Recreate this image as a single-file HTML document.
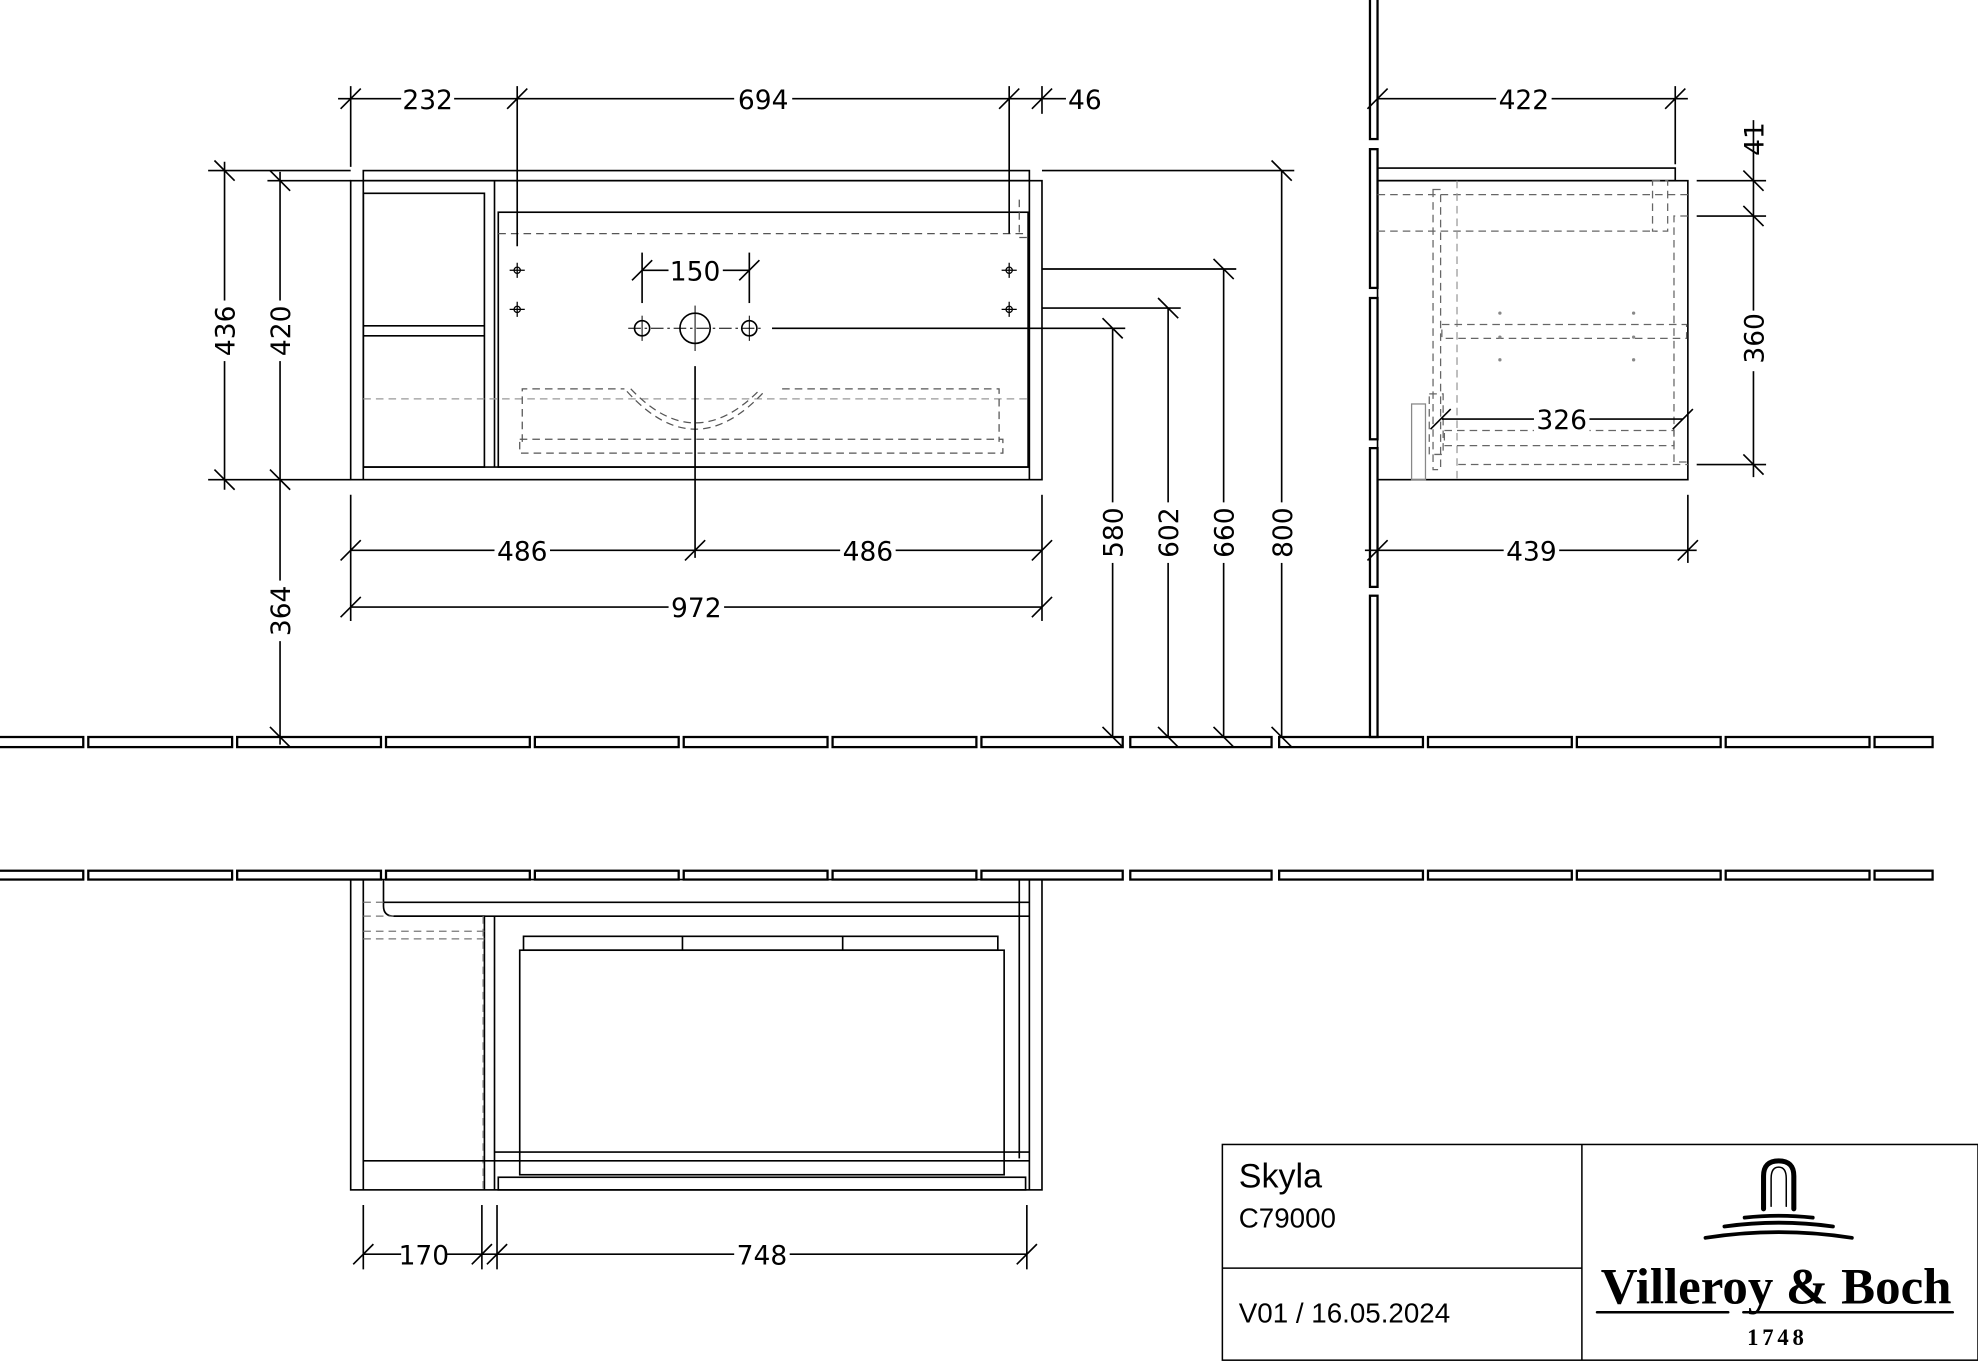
<!DOCTYPE html>
<html><head><meta charset="utf-8"><style>
html,body{margin:0;padding:0;background:#fff;}
svg{display:block;}
.d{font-family:"DejaVu Sans","Liberation Sans",sans-serif;font-size:21px;fill:#000;text-anchor:middle;}
</style></head><body>
<svg width="1978" height="1363" viewBox="0 0 1568 1080" xmlns="http://www.w3.org/2000/svg">
<rect width="1568" height="1080" fill="#fff"/>
<g stroke="#000" stroke-width="1.3" fill="none">
<g stroke-width="1.8">
<rect x="-5" y="584" width="71" height="8"/><rect x="70" y="584" width="114" height="8"/><rect x="188" y="584" width="114" height="8"/><rect x="306" y="584" width="114" height="8"/><rect x="424" y="584" width="114" height="8"/><rect x="542" y="584" width="114" height="8"/><rect x="660" y="584" width="114" height="8"/><rect x="778" y="584" width="112" height="8"/><rect x="896" y="584" width="112" height="8"/><rect x="1014" y="584" width="114" height="8"/><rect x="1132" y="584" width="114" height="8"/><rect x="1250" y="584" width="114" height="8"/><rect x="1368" y="584" width="114" height="8"/><rect x="1486" y="584" width="46" height="8"/>
<rect x="-5" y="690" width="71" height="7"/><rect x="70" y="690" width="114" height="7"/><rect x="188" y="690" width="114" height="7"/><rect x="306" y="690" width="114" height="7"/><rect x="424" y="690" width="114" height="7"/><rect x="542" y="690" width="114" height="7"/><rect x="660" y="690" width="114" height="7"/><rect x="778" y="690" width="112" height="7"/><rect x="896" y="690" width="112" height="7"/><rect x="1014" y="690" width="114" height="7"/><rect x="1132" y="690" width="114" height="7"/><rect x="1250" y="690" width="114" height="7"/><rect x="1368" y="690" width="114" height="7"/><rect x="1486" y="690" width="46" height="7"/>
<rect x="1086" y="-5" width="6" height="115"/><rect x="1086" y="118" width="6" height="110"/><rect x="1086" y="236" width="6" height="112"/><rect x="1086" y="355" width="6" height="110"/><rect x="1086" y="472" width="6" height="112"/>
</g>

<rect x="288" y="135" width="528" height="8"/>
<rect x="278" y="143" width="548" height="237"/>
<line x1="288" y1="143" x2="288" y2="380"/><line x1="816" y1="143" x2="816" y2="380"/>
<line x1="288" y1="370" x2="816" y2="370"/>
<rect x="288" y="153" width="96" height="217"/>
<line x1="288" y1="258" x2="384" y2="258"/><line x1="288" y1="266" x2="384" y2="266"/>
<line x1="392" y1="143" x2="392" y2="370"/>
<rect x="395" y="168" width="420" height="202"/>
<g stroke="#555" stroke-dasharray="6,4" stroke-width="1">
<line x1="395" y1="185" x2="815" y2="185"/>
<line x1="288" y1="316" x2="815" y2="316" stroke="#999"/>
<path d="M414,350 V308 H495 M620,308 H792 V350"/>
<rect x="412" y="348" width="383" height="11"/>
<path d="M497,310 Q551,370 606,310"/>
<path d="M500,308 Q551,362 603,308"/>
<path d="M808,158 V188 H814"/>
</g>
<circle cx="551" cy="260" r="12"/><circle cx="509" cy="260" r="6"/><circle cx="594" cy="260" r="6"/>
<g stroke-width="0.8"><line x1="498" y1="260" x2="605" y2="260" stroke-dasharray="10,3,2,3"/>
<line x1="551" y1="242" x2="551" y2="278"/><line x1="509" y1="250" x2="509" y2="270"/><line x1="594" y1="250" x2="594" y2="270"/></g>
<g stroke-width="1"><circle cx="410" cy="214" r="2.5"/><circle cx="410" cy="245" r="2.5"/><circle cx="800" cy="214" r="2.5"/><circle cx="800" cy="245" r="2.5"/>
<path d="M404,214h12M410,208v12M404,245h12M410,239v12M794,214h12M800,208v12M794,245h12M800,239v12"/></g>
<line x1="551" y1="290" x2="551" y2="442"/>
<line x1="509" y1="200" x2="509" y2="240"/><line x1="594" y1="200" x2="594" y2="240"/>
<line x1="509" y1="214" x2="530" y2="214"/><line x1="573" y1="214" x2="594" y2="214"/>
<path d="M501,222l16,-16M586,222l16,-16"/>

<line x1="268" y1="78" x2="845" y2="78"/>
<line x1="278" y1="68" x2="278" y2="132"/><line x1="410" y1="68" x2="410" y2="195"/><line x1="800" y1="68" x2="800" y2="185"/><line x1="826" y1="68" x2="826" y2="90"/>
<path d="M270,86l16,-16M402,86l16,-16M792,86l16,-16M818,86l16,-16"/>
<line x1="178" y1="128" x2="178" y2="388"/><line x1="222" y1="136" x2="222" y2="590"/>
<line x1="165" y1="135" x2="278" y2="135"/><line x1="212" y1="143" x2="278" y2="143"/><line x1="165" y1="380" x2="278" y2="380"/>
<path d="M170,127l16,16M170,372l16,16M214,135l16,16M214,372l16,16M214,576l16,16"/>
<line x1="278" y1="392" x2="278" y2="492"/><line x1="826" y1="392" x2="826" y2="492"/>
<line x1="278" y1="436" x2="826" y2="436"/><line x1="278" y1="481" x2="826" y2="481"/>
<path d="M270,444l16,-16M543,444l16,-16M818,444l16,-16M270,489l16,-16M818,489l16,-16"/>
<line x1="612" y1="260" x2="892" y2="260"/><line x1="826" y1="244" x2="936" y2="244"/><line x1="826" y1="213" x2="980" y2="213"/><line x1="826" y1="135" x2="1026" y2="135"/>
<line x1="882" y1="260" x2="882" y2="584"/><line x1="926" y1="244" x2="926" y2="584"/><line x1="970" y1="213" x2="970" y2="584"/><line x1="1016" y1="135" x2="1016" y2="584"/>
<path d="M874,252l16,16M918,236l16,16M962,205l16,16M1008,127l16,16M874,576l16,16M918,576l16,16M962,576l16,16M1008,576l16,16"/>

<rect x="1092" y="133" width="236" height="10"/>
<rect x="1092" y="143" width="246" height="237"/>
<g stroke="#666" stroke-dasharray="6,4" stroke-width="1">
<line x1="1092" y1="154" x2="1338" y2="154"/><line x1="1092" y1="183" x2="1314" y2="183"/>
<rect x="1310" y="143" width="12" height="40"/>
<path d="M1338,171 H1327 V366 H1338"/>
<line x1="1155" y1="143" x2="1155" y2="380" stroke="#999"/><line x1="1156" y1="368" x2="1338" y2="368"/>
<rect x="1136" y="150" width="6" height="222"/>
<rect x="1143" y="257" width="194" height="11"/>
<rect x="1133" y="312" width="11" height="48"/>
<rect x="1145" y="341" width="182" height="12"/>
</g>
<rect x="1119" y="320" width="11" height="60" stroke="#888" stroke-width="1"/>
<g fill="#888" stroke="none"><circle cx="1189" cy="248" r="1.3"/><circle cx="1189" cy="267" r="1.3"/><circle cx="1189" cy="285" r="1.3"/><circle cx="1295" cy="248" r="1.3"/><circle cx="1295" cy="267" r="1.3"/><circle cx="1295" cy="285" r="1.3"/></g>
<line x1="1092" y1="78" x2="1338" y2="78"/><line x1="1328" y1="68" x2="1328" y2="130"/>
<path d="M1084,86l16,-16M1320,86l16,-16"/>
<line x1="1082" y1="436" x2="1345" y2="436"/><line x1="1338" y1="392" x2="1338" y2="446"/>
<path d="M1084,444l16,-16M1330,444l16,-16"/>
<line x1="1143" y1="332" x2="1334" y2="332"/><path d="M1134,340l16,-16M1326,340l16,-16"/>
<line x1="1345" y1="143" x2="1400" y2="143"/><line x1="1345" y1="171" x2="1400" y2="171"/><line x1="1345" y1="368" x2="1400" y2="368"/>
<line x1="1390" y1="95" x2="1390" y2="378"/>
<path d="M1382,135l16,16M1382,163l16,16M1382,360l16,16"/>

<rect x="278" y="697" width="548" height="246"/>
<line x1="288" y1="697" x2="288" y2="943"/><line x1="816" y1="697" x2="816" y2="943"/><line x1="808" y1="697" x2="808" y2="918"/>
<path d="M304,697 V718 Q304,726 312,726 H384 V943 M392,726 V943"/>
<line x1="304" y1="715" x2="816" y2="715"/><line x1="312" y1="726" x2="816" y2="726"/>
<g stroke="#777" stroke-dasharray="6,4" stroke-width="1"><line x1="288" y1="715" x2="304" y2="715"/><line x1="288" y1="726" x2="312" y2="726"/><line x1="288" y1="738" x2="384" y2="738"/><line x1="288" y1="744" x2="384" y2="744"/><line x1="383" y1="726" x2="383" y2="943"/></g>
<rect x="415" y="742" width="376" height="11"/><line x1="541" y1="742" x2="541" y2="753"/><line x1="668" y1="742" x2="668" y2="753"/>
<rect x="412" y="753" width="384" height="178"/>
<line x1="392" y1="913" x2="816" y2="913"/><line x1="288" y1="920" x2="816" y2="920"/>
<rect x="395" y="933" width="418" height="10"/>
<line x1="288" y1="955" x2="288" y2="1006"/><line x1="382" y1="955" x2="382" y2="1006"/><line x1="394" y1="955" x2="394" y2="1006"/><line x1="814" y1="955" x2="814" y2="1006"/>
<line x1="288" y1="994" x2="814" y2="994"/>
<path d="M280,1002l16,-16M374,1002l16,-16M386,1002l16,-16M806,1002l16,-16"/>
</g>
<g fill="#fff">
<rect x="318" y="66" width="42" height="24"/><rect x="582" y="66" width="46" height="24"/><rect x="846" y="66" width="30" height="24"/>
<rect x="392" y="424" width="44" height="24"/><rect x="666" y="424" width="44" height="24"/><rect x="530" y="469" width="44" height="24"/>
<rect x="530" y="202" width="42" height="24"/>
<rect x="1186" y="66" width="44" height="24"/><rect x="1192" y="424" width="44" height="24"/><rect x="1216" y="320" width="44" height="24"/>
<rect x="166" y="238" width="24" height="48"/><rect x="210" y="238" width="24" height="48"/><rect x="210" y="460" width="24" height="48"/>
<rect x="870" y="398" width="24" height="48"/><rect x="914" y="398" width="24" height="48"/><rect x="958" y="398" width="24" height="48"/><rect x="1004" y="398" width="24" height="48"/>
<rect x="1378" y="246" width="24" height="48"/>
<rect x="318" y="982" width="36" height="24"/><rect x="582" y="982" width="44" height="24"/>
</g>
<g class="d">
<text x="339" y="86">232</text><text x="605" y="86">694</text><text x="860" y="86">46</text>
<text x="414" y="444">486</text><text x="688" y="444">486</text><text x="552" y="489">972</text>
<text x="551" y="222">150</text>
<text x="1208" y="86">422</text><text x="1214" y="444">439</text><text x="1238" y="340">326</text>
<text x="336" y="1002">170</text><text x="604" y="1002">748</text>
<text transform="translate(186,262) rotate(-90)">436</text>
<text transform="translate(230,262) rotate(-90)">420</text>
<text transform="translate(230,484) rotate(-90)">364</text>
<text transform="translate(890,422) rotate(-90)">580</text>
<text transform="translate(934,422) rotate(-90)">602</text>
<text transform="translate(978,422) rotate(-90)">660</text>
<text transform="translate(1024,422) rotate(-90)">800</text>
<text transform="translate(1398,268) rotate(-90)">360</text>
<text transform="translate(1398,110) rotate(-90)">41</text>
</g>

<g stroke="#000" stroke-width="1.2" fill="none">
<rect x="969" y="907" width="599" height="171"/>
<line x1="1254" y1="907" x2="1254" y2="1078"/>
<line x1="969" y1="1005" x2="1254" y2="1005"/>
</g>
<g font-family="'Liberation Sans',sans-serif" fill="#000">
<text x="982" y="941" font-size="27">Skyla</text>
<text x="982" y="973" font-size="22">C79000</text>
<text x="982" y="1048" font-size="22">V01 /  16.05.2024</text>
</g>
<g stroke="#000" fill="none" stroke-linecap="round">
<path d="M1398,958 V932 Q1398,920 1410,920 Q1422,920 1422,932 V958" stroke-width="4"/>
<path d="M1404,956 V934 Q1404,925 1410,925 Q1416,925 1416,934 V956" stroke-width="1.2"/>
<path d="M1383,965 Q1410,962 1437,965" stroke-width="3"/>
<path d="M1367,972 Q1410,966 1453,972" stroke-width="3"/>
<path d="M1352,981 Q1410,972 1468,981" stroke-width="3"/>
<line x1="1266" y1="1040" x2="1370" y2="1040" stroke-width="2"/>
<line x1="1382" y1="1040" x2="1548" y2="1040" stroke-width="2"/>
</g>
<text x="1408" y="1033" font-family="'Liberation Serif',serif" font-size="40" font-weight="bold" text-anchor="middle" fill="#000" textLength="278" lengthAdjust="spacingAndGlyphs">Villeroy &amp; Boch</text>
<text x="1409" y="1066" font-family="'Liberation Serif',serif" font-size="18" font-weight="bold" letter-spacing="3" text-anchor="middle" fill="#000">1748</text>
</svg>
</body></html>
